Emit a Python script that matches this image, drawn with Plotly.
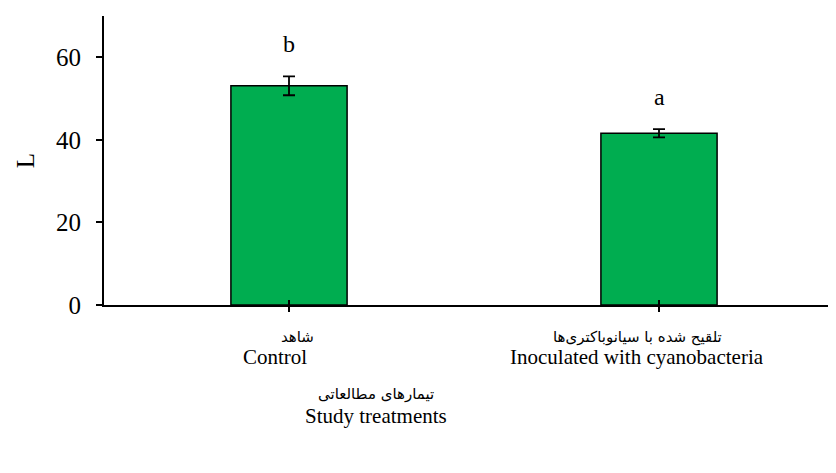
import plotly.graph_objects as go

categories_fa = ["شاهد", "تلقیح شده با سیانوباکتری‌ها"]
categories_en = ["Control", "Inoculated with cyanobacteria"]
values = [53.1, 41.6]
errors = [2.3, 1.0]
letters = ["b", "a"]
y_ticks = [0, 20, 40, 60]
y_title = "L"
x_title_fa = "تیمارهای مطالعاتی"
x_title_en = "Study treatments"

serif = "Liberation Serif, Times New Roman, serif"
fa_font = "DejaVu Sans, serif"

xs = list(range(len(values)))

W, H = 836, 473
ml, mr, mt, mb = 96, 0, 8, 176
pw, ph = W - ml - mr, H - mt - mb

fig = go.Figure()
fig.add_trace(go.Bar(
    x=xs, y=values, width=0.314,
    marker=dict(color="#00AD50", line=dict(color="black", width=1.5)),
    error_y=dict(type="data", array=errors, visible=True, color="black",
                 thickness=1.8, width=6),
    showlegend=False,
))
# invisible trace on overlay axis for inside tick marks
fig.add_trace(go.Scatter(x=xs, y=values, xaxis="x2", mode="markers",
                         marker=dict(opacity=0), showlegend=False, hoverinfo="skip"))

annotations = []
for i, (v, e, l) in enumerate(zip(values, errors, letters)):
    annotations.append(dict(x=i, y=v + e, xref="x", yref="y", text=l, showarrow=False,
                            yanchor="bottom", yshift=17,
                            font=dict(family=serif, size=24, color="black")))
shifts_fa = [8, -22]
shifts_en = [-14, -22]
for i, (fa, en) in enumerate(zip(categories_fa, categories_en)):
    annotations.append(dict(x=i, y=0, xref="x", yref="y", text=fa, showarrow=False,
                            yanchor="middle", yshift=-32, xshift=shifts_fa[i],
                            font=dict(family=fa_font, size=15, color="black")))
    annotations.append(dict(x=i, y=0, xref="x", yref="y", text=en, showarrow=False,
                            yanchor="middle", yshift=-52, xshift=shifts_en[i],
                            font=dict(family=serif, size=21, color="black")))
# axis title (two lines) positioned in figure pixels, converted to paper fractions
for txt, px, py, fam, sz in [(x_title_fa, 368, 386, fa_font, 15),
                             (x_title_en, 368, 408, serif, 21)]:
    annotations.append(dict(x=(px - ml) / pw, y=(H - py - mb) / ph, xref="paper", yref="paper",
                            text=txt, showarrow=False, yanchor="middle",
                            font=dict(family=fam, size=sz, color="black")))

fig.update_layout(
    width=W, height=H,
    margin=dict(l=ml, r=mr, t=mt, b=mb),
    plot_bgcolor="white", paper_bgcolor="white",
    annotations=annotations,
    xaxis=dict(range=[-0.5, 1.5], tickvals=xs, ticktext=["", ""], showgrid=False,
               zeroline=False, showline=True, linecolor="black", linewidth=1.5,
               ticks="outside", ticklen=5, tickwidth=1.5, tickcolor="black"),
    xaxis2=dict(overlaying="x", matches="x", range=[-0.5, 1.5], tickvals=xs,
                showticklabels=False, showgrid=False, zeroline=False, showline=False,
                ticks="inside", ticklen=5, tickwidth=1.5, tickcolor="black", side="bottom"),
    yaxis=dict(range=[0, 70], tickvals=y_ticks, showgrid=False, zeroline=False,
               showline=True, linecolor="black", linewidth=2,
               ticks="outside", ticklen=6, tickwidth=1.5, tickcolor="black",
               ticklabelstandoff=10,
               tickfont=dict(family=serif, size=25, color="black"),
               title=dict(text=y_title, font=dict(family=serif, size=25, color="black"),
                          standoff=14)),
)
fig.write_html("out.html")
